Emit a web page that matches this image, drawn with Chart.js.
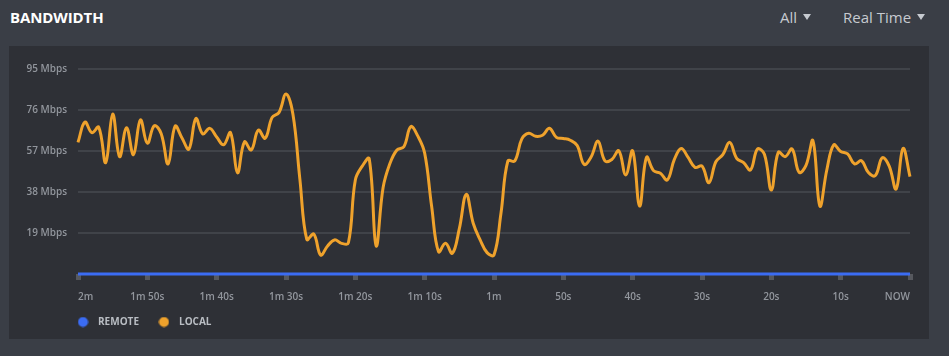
<!DOCTYPE html>
<html>
<head>
<meta charset="utf-8">
<script src="https://cdn.jsdelivr.net/npm/chart.js@4.4.1/dist/chart.umd.min.js"></script>
<style>
  html, body { margin: 0; padding: 0; }
  body { width: 949px; height: 356px; background: #3a3e46; position: relative; overflow: hidden; font-family: "Open Sans", sans-serif; }
  #title { position: absolute; left: 10px; top: 6px; font-size: 15px; font-weight: 700; color: #ffffff; line-height: 22px; letter-spacing: -0.1px; }
  .menu { position: absolute; top: 5px; font-size: 15px; color: #c6cad0; line-height: 24px; }
  .menu .tri { display: inline-block; width: 0; height: 0; border-left: 4.5px solid transparent; border-right: 4.5px solid transparent; border-top: 6px solid #c6cad0; vertical-align: middle; margin-left: 6px; margin-top: -3px; }
  #card { position: absolute; left: 9px; top: 46px; width: 920px; height: 293px; background: #2e3036; }
  #wrap { position: absolute; left: 0; top: 46px; width: 949px; height: 293px; }
</style>
</head>
<body>
<div id="title">BANDWIDTH</div>
<div class="menu" style="left:780px;">All<span class="tri"></span></div>
<div class="menu" style="left:843px;">Real Time<span class="tri"></span></div>
<div id="card"></div>
<div id="wrap"><canvas id="c"></canvas></div>
<script>
// ---- data ----
const seriesNames = ['REMOTE', 'LOCAL'];
const timeTickLabels = ['2m', '1m 50s', '1m 40s', '1m 30s', '1m 20s', '1m 10s', '1m', '50s', '40s', '30s', '20s', '10s', 'NOW'];
const yTickValues = [0, 19, 38, 57, 76, 95];
const remoteMbps = [
  0,0,0,0,0,0,0,0,0,0, 0,0,0,0,0,0,0,0,0,0,
  0,0,0,0,0,0,0,0,0,0, 0,0,0,0,0,0,0,0,0,0,
  0,0,0,0,0,0,0,0,0,0, 0,0,0,0,0,0,0,0,0,0,
  0,0,0,0,0,0,0,0,0,0, 0,0,0,0,0,0,0,0,0,0,
  0,0,0,0,0,0,0,0,0,0, 0,0,0,0,0,0,0,0,0,0,
  0,0,0,0,0,0,0,0,0,0, 0,0,0,0,0,0,0,0,0,0,
  0
];
const localMbps = [
  61, 70.4, 65.5, 68, 51.6, 74.1, 54.4, 67.8, 55.3, 71.4,
  60.6, 68.7, 65, 51, 68.5, 63, 57.9, 72, 64.9, 67.5,
  63.5, 59.9, 65.5, 46.9, 61.2, 57.5, 66.7, 62.9, 72.6, 74.9,
  83.4, 74, 44, 16, 18.5, 8.8, 13, 15.8, 14.2, 14.5,
  43.6, 50, 53.4, 13.1, 40, 51.3, 57.5, 59, 68.3, 64,
  56, 31.5, 10.3, 14.2, 9.6, 21, 36.9, 23.5, 15.8, 9.9,
  8.8, 28, 52.4, 52.4, 62.5, 65.2, 63.8, 64.3, 67.5, 63.3,
  62.8, 62, 59.5, 50.8, 54.2, 61.6, 52.4, 53.1, 57.1, 45.9,
  57.1, 31.5, 54.1, 47.9, 46.7, 43.6, 53, 58.2, 54, 49.4,
  50, 42.3, 52, 55.3, 61, 53.6, 51.6, 48.2, 57.9, 55.5,
  38.9, 56.4, 54.4, 57.9, 47.1, 50.3, 61.8, 31.5, 48.2, 59.8,
  56.8, 55.7, 51, 52.5, 47, 45.6, 53.9, 50, 39.4, 58.2,
  45.1
];
const colors = { remote: '#3b6cf3', local: '#efa22c' };

// ---- build ----
const last = localMbps.length - 1;
const toPoints = arr => arr.map((v, i) => ({ x: i - last, y: v }));

function dot(color) {
  const c = document.createElement('canvas');
  c.width = 11; c.height = 11;
  const g = c.getContext('2d');
  g.fillStyle = color;
  g.beginPath(); g.arc(5.5, 5.5, 5, 0, Math.PI * 2); g.fill();
  return c;
}

// shift the bottom legend so its first marker lines up with the plot's left edge
const legendShift = {
  id: 'legendShift',
  afterLayout(chart) {
    const lg = chart.legend;
    if (!lg) return;
    const dx = chart.chartArea.left - 5 - (lg.left + lg.options.labels.padding);
    lg.left += dx; lg.right += dx;
  }
};

const tickFont = { family: 'Open Sans', size: 10, weight: '600' };

new Chart(document.getElementById('c'), {
  type: 'line',
  data: {
    datasets: [
      { label: seriesNames[0], data: toPoints(remoteMbps), borderColor: colors.remote, backgroundColor: colors.remote,
        borderWidth: 3, pointRadius: 0, pointStyle: dot(colors.remote), tension: 0.4, clip: 6 },
      { label: seriesNames[1], data: toPoints(localMbps), borderColor: colors.local, backgroundColor: colors.local,
        borderWidth: 3, pointRadius: 0, pointStyle: dot(colors.local), tension: 0.4, clip: 6 }
    ]
  },
  plugins: [legendShift],
  options: {
    responsive: true,
    maintainAspectRatio: false,
    animation: false,
    layout: { padding: { left: 20, right: 39, top: 23, bottom: 2 } },
    plugins: {
      tooltip: { enabled: false },
      legend: {
        position: 'bottom',
        align: 'start',
        labels: {
          usePointStyle: true,
          pointStyleWidth: 20,
          padding: 15,
          color: '#b9bdc3',
          font: { family: 'Open Sans', size: 10, weight: 'bold' }
        }
      }
    },
    scales: {
      x: {
        type: 'linear',
        min: -last,
        max: 0,
        afterFit: s => { s.height = 28; },
        border: { display: false },
        grid: { drawOnChartArea: false, drawTicks: true, tickLength: 6, tickWidth: 5, tickColor: '#56585e' },
        ticks: {
          stepSize: 10,
          align: 'inner',
          padding: 11,
          color: '#92969d',
          font: tickFont,
          maxRotation: 0,
          callback: v => timeTickLabels[Math.round((v + last) / 10)]
        }
      },
      y: {
        min: yTickValues[0],
        max: yTickValues[yTickValues.length - 1],
        afterFit: s => { s.width = 58; },
        border: { display: false },
        grid: { color: '#404349', lineWidth: 2, drawTicks: false },
        ticks: {
          stepSize: 19,
          padding: 11,
          color: '#92969d',
          font: tickFont,
          callback: v => (v === 0 ? null : v + ' Mbps')
        }
      }
    }
  }
});
</script>
</body>
</html>
